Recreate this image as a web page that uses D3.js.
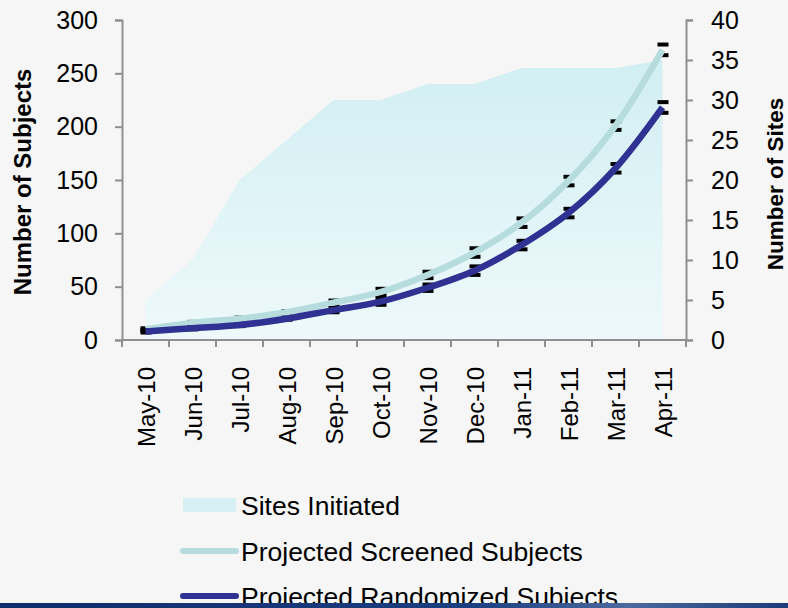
<!DOCTYPE html>
<html>
<head>
<meta charset="utf-8">
<script src="https://cdn.jsdelivr.net/npm/d3@7"></script>
<style>
  html, body { margin: 0; padding: 0; background: #f6f6f6; }
  svg { display: block; font-family: "Liberation Sans", Arial, sans-serif; }
</style>
</head>
<body>
<svg id="chart" width="788" height="608"></svg>
<script>
// Monthly categories
const months = ["May-10", "Jun-10", "Jul-10", "Aug-10", "Sep-10", "Oct-10",
                "Nov-10", "Dec-10", "Jan-11", "Feb-11", "Mar-11", "Apr-11"];

// Cumulative sites initiated (right axis)
const sitesInitiated = [5, 10, 20, 25, 30, 30, 32, 32, 34, 34, 34, 35];

// Projected subjects (left axis) with error margins
const screened      = [10, 16, 20, 26, 35, 45, 61, 82, 110, 149, 201, 272];
const screenedErr   = [1, 1, 1, 1, 2, 3, 3, 4, 4, 4, 4, 5];
const randomized    = [8, 11, 14, 20, 28, 36, 49, 65, 89, 119, 161, 218];
const randomizedErr = [1, 1, 1, 1, 2, 3, 3, 4, 4, 4, 4, 5];

const leftTicks  = [0, 50, 100, 150, 200, 250, 300];
const rightTicks = [0, 5, 10, 15, 20, 25, 30, 35, 40];

const legendItems = ["Sites Initiated", "Projected Screened Subjects", "Projected Randomized Subjects"];

const svg = d3.select("#chart");
const W = 788, H = 608;
const plot = { left: 122, right: 686, top: 20, bottom: 340 };

const defs = svg.append("defs");
const areaGrad = defs.append("linearGradient")
  .attr("id", "areaGrad").attr("gradientUnits", "userSpaceOnUse")
  .attr("x1", 0).attr("y1", plot.top).attr("x2", 0).attr("y2", plot.bottom);
areaGrad.append("stop").attr("offset", "0%").attr("stop-color", "#cdedf1");
areaGrad.append("stop").attr("offset", "100%").attr("stop-color", "#eef9fb");

const stripGrad = defs.append("linearGradient")
  .attr("id", "stripGrad").attr("x1", 0).attr("y1", 0).attr("x2", 1).attr("y2", 0);
stripGrad.append("stop").attr("offset", "0%").attr("stop-color", "#0f2c6c");
stripGrad.append("stop").attr("offset", "60%").attr("stop-color", "#1b3f80");
stripGrad.append("stop").attr("offset", "80%").attr("stop-color", "#4c6aa0");
stripGrad.append("stop").attr("offset", "100%").attr("stop-color", "#1a3a7a");

// Page background
svg.append("rect").attr("width", W).attr("height", H).attr("fill", "#f6f6f6");

// Scales
const x = d3.scaleBand().domain(months).range([plot.left, plot.right]).padding(0);
const cx = d => x(d) + x.bandwidth() / 2;
const yL = d3.scaleLinear().domain([0, 300]).range([plot.bottom, plot.top]);
const yR = d3.scaleLinear().domain([0, 40]).range([plot.bottom, plot.top]);

// Sites initiated area
const area = d3.area()
  .x((d, i) => cx(months[i]))
  .y0(yR(0))
  .y1(d => yR(d));
svg.append("path").datum(sitesInitiated)
  .attr("d", area).attr("fill", "url(#areaGrad)");

// Axes
const axisColor = "#8f8f8f";
const leftAxis = svg.append("g")
  .attr("transform", `translate(${plot.left},0)`)
  .call(d3.axisLeft(yL).tickValues(leftTicks).tickSize(7).tickPadding(17));
const rightAxis = svg.append("g")
  .attr("transform", `translate(${plot.right},0)`)
  .call(d3.axisRight(yR).tickValues(rightTicks).tickSize(7).tickPadding(18));
[leftAxis, rightAxis].forEach(g => {
  g.select(".domain").attr("stroke", axisColor).attr("stroke-width", 2);
  g.selectAll(".tick line").attr("stroke", axisColor).attr("stroke-width", 2);
  g.selectAll(".tick text").attr("font-size", 25).attr("fill", "#000")
    .attr("font-family", "Liberation Sans, Arial, sans-serif");
});

// Category axis: boundary ticks and rotated labels
const xAxis = svg.append("g");
xAxis.append("line")
  .attr("x1", plot.left).attr("x2", plot.right)
  .attr("y1", plot.bottom).attr("y2", plot.bottom)
  .attr("stroke", axisColor).attr("stroke-width", 2);
const edges = months.map(m => x(m)).concat([x(months[months.length - 1]) + x.bandwidth()]);
xAxis.selectAll("line.tk").data(edges).enter().append("line")
  .attr("class", "tk")
  .attr("x1", d => d).attr("x2", d => d)
  .attr("y1", plot.bottom).attr("y2", plot.bottom + 7)
  .attr("stroke", axisColor).attr("stroke-width", 2);
xAxis.selectAll("text").data(months).enter().append("text")
  .attr("transform", d => `translate(${cx(d) + 1},${plot.bottom + 27}) rotate(-90)`)
  .attr("text-anchor", "end").attr("dy", "0.36em")
  .attr("font-size", 24).attr("fill", "#000")
  .text(d => d);

// Axis titles
svg.append("text")
  .attr("transform", `translate(31,182) rotate(-90)`)
  .attr("text-anchor", "middle").attr("font-size", 24).attr("font-weight", "bold")
  .text("Number of Subjects");
svg.append("text")
  .attr("transform", `translate(783,184) rotate(-90)`)
  .attr("text-anchor", "middle").attr("font-size", 22.5).attr("font-weight", "bold")
  .text("Number of Sites");

// Projection lines with error caps tucked beneath each line
const line = d3.line()
  .x((d, i) => cx(months[i]))
  .y(d => yL(d))
  .curve(d3.curveCatmullRom.alpha(0.5));

const series = [
  { values: screened, err: screenedErr, color: "#b6dcdd" },
  { values: randomized, err: randomizedErr, color: "#2f3193" }
];

series.forEach(s => {
  const g = svg.append("g");
  s.values.forEach((v, i) => {
    const px = cx(months[i]);
    [v + s.err[i], v - s.err[i]].forEach(val => {
      g.append("line")
        .attr("x1", px - 5).attr("x2", px + 6)
        .attr("y1", yL(val)).attr("y2", yL(val))
        .attr("stroke", "#000").attr("stroke-width", 4);
    });
  });
  svg.append("path").datum(s.values)
    .attr("d", line).attr("fill", "none")
    .attr("stroke", s.color).attr("stroke-width", 6.5)
    .attr("stroke-linejoin", "round");
});

// Legend
const lg = svg.append("g");
const legendY = [505, 551, 596];
lg.append("rect")
  .attr("x", 183).attr("y", legendY[0] - 7).attr("width", 53).attr("height", 14)
  .attr("fill", "#d6f0f3");
lg.append("line")
  .attr("x1", 183).attr("x2", 236).attr("y1", legendY[1]).attr("y2", legendY[1])
  .attr("stroke", series[0].color).attr("stroke-width", 6).attr("stroke-linecap", "round");
lg.append("line")
  .attr("x1", 183).attr("x2", 236).attr("y1", legendY[2]).attr("y2", legendY[2])
  .attr("stroke", series[1].color).attr("stroke-width", 6).attr("stroke-linecap", "round");
lg.selectAll("text").data(legendItems).enter().append("text")
  .attr("x", 241).attr("y", (d, i) => legendY[i])
  .attr("dy", "0.36em").attr("font-size", 26.5).attr("fill", "#000")
  .text(d => d);

// Bottom strip
svg.append("rect").attr("x", 0).attr("y", 603).attr("width", W).attr("height", 5)
  .attr("fill", "url(#stripGrad)");
</script>
</body>
</html>
